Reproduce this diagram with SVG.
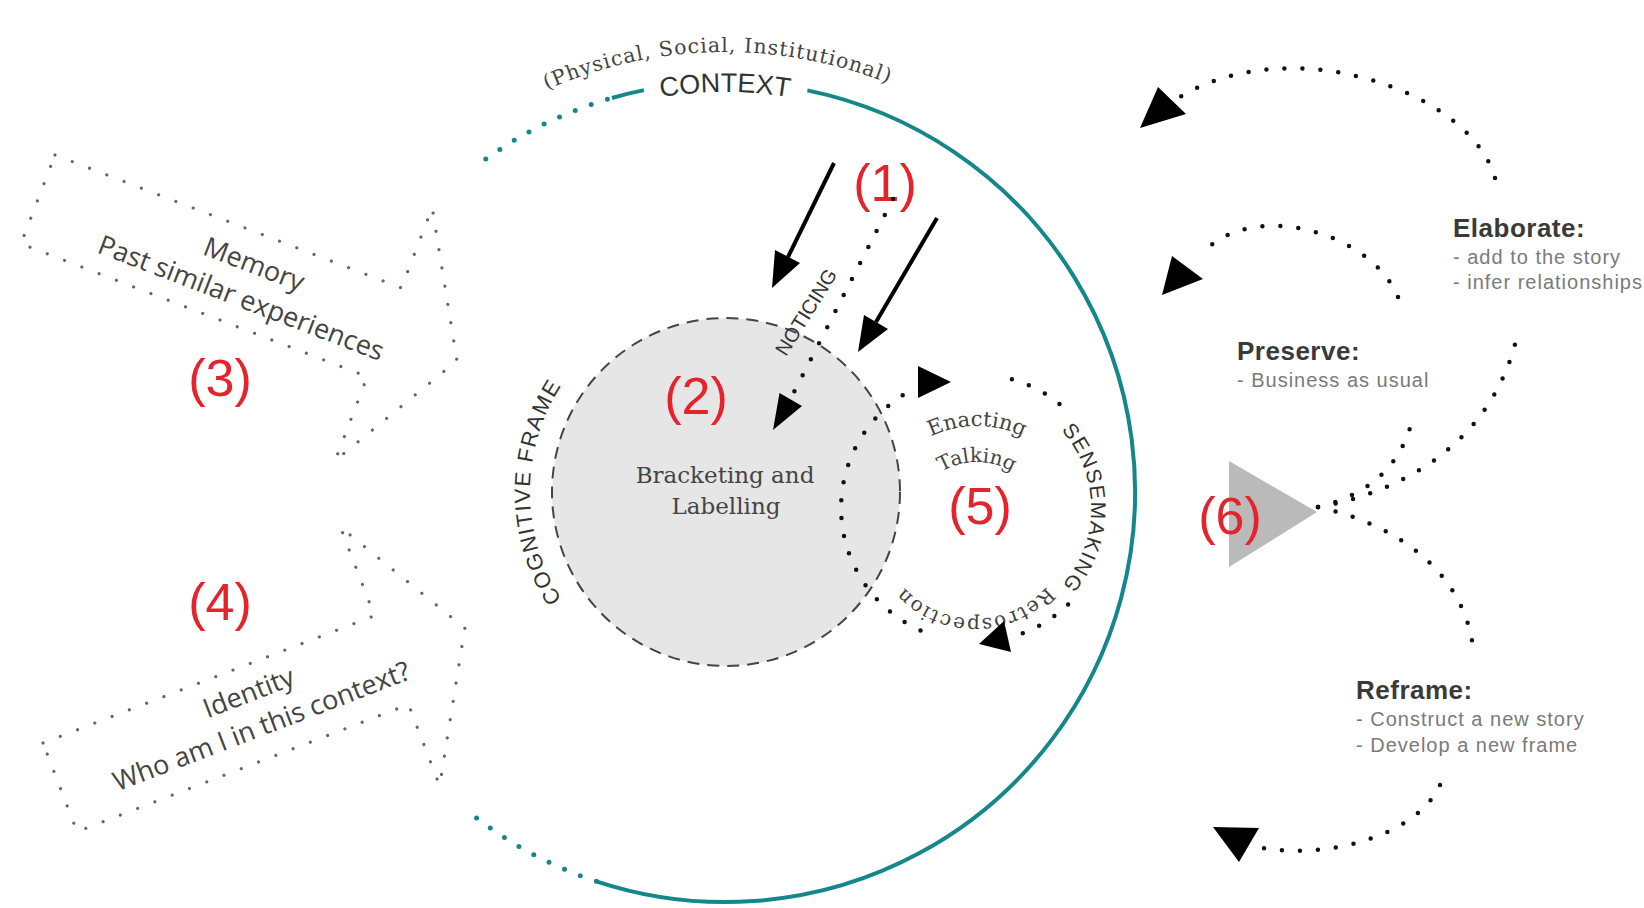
<svg xmlns="http://www.w3.org/2000/svg" width="1644" height="908" viewBox="0 0 1644 908">
<defs>
<style>
.dotk{fill:none;stroke:#111;stroke-width:4.5;stroke-linecap:round;stroke-dasharray:0 18}
.dotg{fill:none;stroke:#666;stroke-width:3.2;stroke-linecap:round;stroke-linejoin:round;stroke-dasharray:0 18.5}
.teal{fill:none;stroke:#14878a;stroke-width:4}
.tealdot{fill:none;stroke:#14878a;stroke-width:5;stroke-linecap:round;stroke-dasharray:0 17}
.solid{fill:none;stroke:#000;stroke-width:4}
.head{fill:#000}
.num{font-family:"Liberation Sans",Arial,sans-serif;font-size:52px;fill:#e5232b;text-anchor:middle}
.sans{font-family:"Liberation Sans",Arial,sans-serif;fill:#333}
.serif{font-family:"DejaVu Serif","Liberation Serif",serif;fill:#444}
.open{font-family:"Open Sans","Liberation Sans",sans-serif;font-size:27px;fill:#444;text-anchor:middle}
.h{font-family:"Liberation Sans",Arial,sans-serif;font-weight:bold;font-size:26px;letter-spacing:0.5px;fill:#3a3a3a}
.sub{font-family:"Liberation Sans",Arial,sans-serif;font-size:20px;letter-spacing:1px;fill:#7a7a7a}
</style>
<path id="pCtx" d="M588.2,116.1 A400,400 0 0 1 861.8,116.1"/>
<path id="pPhys" d="M472.6,131.6 A440,440 0 0 1 964.6,123"/>
<path id="pCog" d="M565.4,604.4 A196,196 0 0 1 565.4,379.6"/>
<path id="pSense" d="M1033,407.5 A116,116 0 0 1 1033,608.5"/>
<path id="pRetro" d="M1069,542.2 A96,96 0 0 1 881,542.2"/>
<path id="pEnact" d="M916.2,445.2 A106,106 0 0 1 1037.8,445.2"/>
<path id="pTalk" d="M923.4,487 A70,70 0 0 1 1030.6,487"/>
</defs>
<rect width="1644" height="908" fill="#fff"/>

<g id="context">
<path class="teal" d="M807.4,90.4 A410,410 0 1 1 596.3,881.3"/>
<path class="tealdot" d="M596.3,881.3 A410,410 0 0 1 474.9,816.8"/>
<path class="tealdot" d="M485.8,159 A410,410 0 0 1 612,98"/>
<path class="teal" d="M612,98 A410,410 0 0 1 643.9,90.1"/>
<text class="sans" font-size="27" text-anchor="middle"><textPath href="#pCtx" startOffset="50%">CONTEXT</textPath></text>
<text class="serif" font-size="20.5" letter-spacing="1" text-anchor="middle"><textPath href="#pPhys" startOffset="50%">(Physical, Social, Institutional)</textPath></text>
</g>

<g id="memory">
<polygon class="dotg" transform="translate(55,155) rotate(21)" points="0,0 371,0 371,-86 449,48 371,185 371,95 0,95"/>
<text class="open" transform="translate(55,155) rotate(21)"><tspan x="225" y="40">Memory</tspan><tspan x="225" y="76">Past similar experiences</tspan></text>
<text class="num" x="220" y="396">(3)</text>
</g>

<g id="identity">
<polygon class="dotg" transform="translate(43,743) rotate(-21)" points="0,0 355,0 355,-95 435,44 355,182 355,95 0,95"/>
<text class="open" transform="translate(43,743) rotate(-21)"><tspan x="210" y="36">Identity</tspan><tspan x="210" y="72">Who am I in this context?</tspan></text>
<text class="num" x="220" y="620">(4)</text>
</g>

<g id="bracketing">
<circle cx="726" cy="492" r="174" fill="#e6e6e6" stroke="#444" stroke-width="2" stroke-dasharray="12 8"/>
<text class="serif" font-size="23" text-anchor="middle" x="725" y="483">Bracketing and</text>
<text class="serif" font-size="23" text-anchor="middle" x="726" y="514">Labelling</text>
<text class="num" x="696" y="414">(2)</text>
<text class="sans" font-size="22" letter-spacing="1.5" text-anchor="middle"><textPath href="#pCog" startOffset="50%">COGNITIVE FRAME</textPath></text>
</g>

<g id="noticing">
<text class="sans" font-size="20" text-anchor="middle" transform="translate(806,312) rotate(-58)" x="0" y="7">NOTICING</text>
<text class="num" x="885" y="201">(1)</text>
</g>

<g id="sensemaking">
<text class="sans" font-size="21" letter-spacing="1.5" text-anchor="middle"><textPath href="#pSense" startOffset="50%">SENSEMAKING</textPath></text>
<text class="serif" font-size="20" letter-spacing="1.5" text-anchor="middle"><textPath href="#pRetro" startOffset="50%">Retrospection</textPath></text>
<text class="serif" font-size="21" text-anchor="middle"><textPath href="#pEnact" startOffset="50%">Enacting</textPath></text>
<text class="serif" font-size="20" text-anchor="middle"><textPath href="#pTalk" startOffset="50%">Talking</textPath></text>
<text class="num" x="980" y="524">(5)</text>
</g>

<g id="outcome">
<polygon points="1229,461 1229,567 1317,512" fill="#bababa"/>
<text class="num" x="1230" y="534">(6)</text>
</g>

<g id="elaborate">
<text class="h" x="1453" y="237">Elaborate:</text>
<text class="sub" x="1453" y="264">- add to the story</text>
<text class="sub" x="1453" y="289">- infer relationships</text>
</g>
<g id="preserve">
<text class="h" x="1237" y="360">Preserve:</text>
<text class="sub" x="1237" y="387">- Business as usual</text>
</g>
<g id="reframe">
<text class="h" x="1356" y="699">Reframe:</text>
<text class="sub" x="1356" y="726">- Construct a new story</text>
<text class="sub" x="1356" y="752">- Develop a new frame</text>
</g>

<g id="connectors">
<line class="solid" x1="834" y1="163" x2="788" y2="257"/>
<polygon class="head" points="772,288 800,263 775,250"/>
<line class="solid" x1="937" y1="218" x2="876" y2="322"/>
<polygon class="head" points="858,352 888,329 864,315"/>
<path class="dotk" d="M893,199 L794,392"/>
<polygon class="head" points="773,430 802,406 779.5,393"/>
<path class="dotk" d="M920.5,630.4 A134,134 0 0 1 918.4,386.6"/>
<polygon class="head" points="918,366 918,398 951,382"/>
<path class="dotk" d="M1011.9,379.2 A134,134 0 0 1 1066.4,410"/>
<path class="dotk" d="M1068.1,604.4 A134,134 0 0 1 1016.4,635.4"/>
<polygon class="head" points="1004,621 1011,652 979,644"/>
<path class="dotk" d="M1495,178 C1470,90 1290,30 1180,97"/>
<polygon class="head" points="1140,128 1158,87 1186,114"/>
<path class="dotk" d="M1398,297 C1370,230 1250,200 1203,253"/>
<polygon class="head" points="1162,295 1172,256 1203,279"/>
<path class="dotk" d="M1318,507 Q1390,490 1410,428"/>
<path class="dotk" d="M1318,507 C1405,492 1495,440 1518,332"/>
<path class="dotk" d="M1318,507 C1400,525 1468,575 1474,656"/>
<path class="dotk" d="M1440,785 C1420,830 1340,860 1262,848"/>
<polygon class="head" points="1213,827 1259,828 1239,862"/>
</g>
</svg>
